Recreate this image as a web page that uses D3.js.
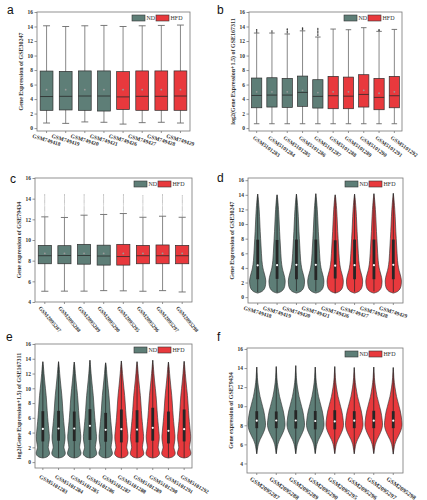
<!DOCTYPE html>
<html><head><meta charset="utf-8">
<script src="https://cdn.jsdelivr.net/npm/d3@7"></script>
<style>body{margin:0;background:#fff} svg{display:block}</style>
</head><body>
<script>
// ---------------- DATA ----------------
const groupNames = ["ND", "HFD"];
const samplesA = ["GSM749418","GSM749419","GSM749420","GSM749421","GSM749426","GSM749427","GSM749428","GSM749429"];
const groupsA  = ["ND","ND","ND","ND","HFD","HFD","HFD","HFD"];
const samplesB = ["GSM5101283","GSM5101284","GSM5101285","GSM5101286","GSM5101287","GSM5101288","GSM5101289","GSM5101290","GSM5101291","GSM5101292"];
const groupsB  = ["ND","ND","ND","ND","ND","HFD","HFD","HFD","HFD","HFD"];
const samplesC = ["GSM2095287","GSM2095288","GSM2095289","GSM2095290","GSM2095295","GSM2095296","GSM2095297","GSM2095298"];
const groupsC  = ["ND","ND","ND","ND","HFD","HFD","HFD","HFD"];

const ticks0to16 = [0,2,4,6,8,10,12,14,16];
const ticks4to16 = [4,6,8,10,12,14,16];

// GSE30247 (panels a, d)
const lowA  = [0.70,0.65,0.85,0.80,0.55,0.75,0.80,0.70];
const q1A   = [2.45,2.50,2.45,2.35,2.55,2.45,2.45,2.45];
const medA  = [4.35,4.38,4.42,4.42,4.30,4.38,4.38,4.42];
const q3A   = [7.86,7.82,7.88,7.88,7.78,7.88,7.88,7.88];
const highA = [14.10,14.00,14.10,14.15,14.00,14.10,14.15,14.20];
const meanA = [5.30,5.30,5.30,5.30,5.30,5.30,5.30,5.30];

// GSE167311 (panels b, e)
const lowB  = [0.60,0.60,0.60,0.60,0.60,0.60,0.60,0.60,0.60,0.60];
const q1B   = [2.80,2.90,2.85,3.00,2.76,2.67,2.67,2.90,2.53,2.80];
const medB  = [4.50,4.55,4.55,4.92,4.37,4.46,4.40,4.64,4.23,4.46];
const q3B   = [6.90,6.94,6.85,7.17,6.67,7.13,7.03,7.36,6.85,7.13];
const highB = [13.10,13.10,12.97,13.40,12.55,13.65,13.56,13.84,13.33,13.60];
const meanB = [5.00,5.00,5.00,5.20,4.90,5.00,5.00,5.20,4.80,5.00];
const outB  = [[13.25,13.40,13.55],[13.25,13.40],[13.15,13.35,13.55,13.65],[13.55,13.70,13.80],
               [12.75,12.95,13.15,13.35,13.55,13.75],[],[],[],[13.45,13.56],[]];
const topB  = [13.60,13.60,13.55,13.80,13.45,13.70,13.60,13.80,13.55,13.65];

// GSE79434 (panels c, f)
const lowC  = [5.04,5.05,5.05,5.10,5.08,5.04,5.10,4.97];
const q1C   = [7.70,7.70,7.66,7.57,7.57,7.70,7.70,7.70];
const medC  = [8.48,8.50,8.50,8.45,8.40,8.48,8.48,8.48];
const q3C   = [9.48,9.45,9.58,9.50,9.58,9.48,9.52,9.48];
const highC = [12.24,12.18,12.40,12.47,12.56,12.20,12.30,12.20];
const meanC = [8.70,8.70,8.70,8.70,8.70,8.70,8.70,8.70];
const maxC  = [14.44,14.40,14.40,14.40,14.40,14.30,14.40,14.35];
const topF  = [14.10,14.15,14.25,14.10,14.15,14.05,14.10,14.05];
const outlierLevelsC = [12.3,12.4,12.5,12.6,12.7,12.8,12.9,13.0,13.1,13.2,13.3,13.4,13.5,13.6,13.7,13.8,13.9,14.0,14.1,14.2,14.3,14.4];

// violin density profiles [value, relative half-width]
const profD = [[0.55,0],[0.8,0.55],[1.2,0.85],[1.7,0.97],[2.2,1],[2.7,0.94],[3.3,0.8],[4.0,0.64],[5.0,0.52],[6.0,0.46],
               [7.0,0.41],[8.0,0.36],[9.0,0.31],[10.0,0.27],[11.0,0.23],[12.0,0.18],[13.0,0.11],[13.6,0.06],[14.1,0]];
const profE = [[0.55,0],[0.7,0.6],[0.95,0.92],[1.25,1],[1.6,0.9],[1.95,0.8],[2.4,0.85],[3.0,0.95],[3.5,0.97],[4.2,0.9],
               [5.0,0.82],[6.0,0.72],[7.0,0.64],[8.0,0.57],[9.0,0.49],[10.0,0.38],[11.0,0.27],[12.0,0.17],[13.0,0.08],[13.6,0]];
const profF = [[5.0,0],[5.5,0.08],[6.0,0.18],[6.5,0.38],[7.0,0.65],[7.5,0.88],[8.0,1],[8.5,0.97],[9.0,0.9],[9.5,0.8],
               [10.0,0.66],[10.5,0.52],[11.0,0.38],[11.5,0.28],[12.0,0.19],[12.5,0.12],[13.0,0.07],[13.5,0.04],[14.2,0]];

// ---------------- DRAWING ----------------
const COL = {ND:"#5e7e77", HFD:"#e8393d"};
const SERIF = "'Liberation Serif','Times New Roman',serif";
const SANS = "'Liberation Sans',Arial,sans-serif";
const svg = d3.select("body").append("svg").attr("width",427).attr("height",500);

function drawPanel(p){
  const x = d3.scaleBand().domain(p.samples).range([p.x0,p.x1]);
  const y = d3.scaleLinear().domain(p.domain).range([p.y1,p.y0]);
  const g = svg.append("g");
  const bw = x.bandwidth();

  g.append("text").attr("x",p.lx).attr("y",p.ly).text(p.letter)
    .attr("font-family",SANS).attr("font-size",12).attr("fill","#111");

  // y axis
  const yg = g.append("g").attr("transform",`translate(${p.x0},0)`)
    .call(d3.axisLeft(y).tickValues(p.ticks).tickSize(2.5).tickPadding(1.5).tickFormat(d3.format("d")));
  yg.select(".domain").remove();
  yg.selectAll("line").attr("stroke","#666").attr("stroke-width",0.7);
  yg.selectAll("text").attr("font-family",SERIF).attr("font-weight","bold").attr("font-size",5.5).attr("fill","#333");

  // x axis ticks
  const xg = g.append("g").attr("transform",`translate(0,${p.y1})`)
    .call(d3.axisBottom(x).tickSize(2).tickFormat(""));
  xg.select(".domain").remove();
  xg.selectAll("line").attr("stroke","#666").attr("stroke-width",0.7);

  // x labels
  g.selectAll("text.xl").data(p.samples).join("text").attr("class","xl")
    .attr("transform",d=>`translate(${x(d)+bw/2+p.ldx},${p.y1+p.ldy}) rotate(${p.rot})`)
    .attr("text-anchor",p.anchor).attr("dy","0.35em")
    .attr("font-family",SERIF).attr("font-weight","bold").attr("font-size",p.lfs).attr("fill","#333")
    .text(d=>d);

  // y title
  g.append("text").attr("transform",`translate(${p.x0-14},${(p.y0+p.y1)/2}) rotate(-90)`)
    .attr("text-anchor","middle").attr("font-family",SERIF).attr("font-weight","bold")
    .attr("font-size",6).attr("fill","#333").text(p.title);

  const marks = g.append("g");
  p.samples.forEach((s,i)=>{
    const cx = x(s)+bw/2, c = COL[p.groups[i]];
    if(p.type==="box"){
      const w = bw*0.67;
      marks.append("line").attr("x1",cx).attr("x2",cx).attr("y1",y(p.low[i])).attr("y2",y(p.high[i]))
        .attr("stroke","#7a7a7a").attr("stroke-width",0.9);
      [p.low[i],p.high[i]].forEach(v=>marks.append("line").attr("x1",cx-w*0.27).attr("x2",cx+w*0.27)
        .attr("y1",y(v)).attr("y2",y(v)).attr("stroke","#6a6a6a").attr("stroke-width",0.9));
      (p.out ? p.out(i) : []).forEach(v=>marks.append("circle").attr("cx",cx).attr("cy",y(v))
        .attr("r",p.outR).attr("fill",p.outC));
      marks.append("rect").attr("x",cx-w/2).attr("width",w).attr("y",y(p.q3[i]))
        .attr("height",y(p.q1[i])-y(p.q3[i])).attr("fill",c).attr("stroke","#2e2e2e").attr("stroke-width",0.7);
      marks.append("line").attr("x1",cx-w/2).attr("x2",cx+w/2).attr("y1",y(p.med[i])).attr("y2",y(p.med[i]))
        .attr("stroke","#2a2a2a").attr("stroke-width",0.8);
      marks.append("circle").attr("cx",cx).attr("cy",y(p.mean[i])).attr("r",0.9).attr("fill","#9a9a9a");
    } else {
      const hw = bw*p.vw;
      const prof = p.prof.map((d,k)=> k===p.prof.length-1 ? [p.top[i],d[1]] : d);
      const area = d3.area().curve(d3.curveCatmullRom)
        .x0(d=>cx-hw*d[1]).x1(d=>cx+hw*d[1]).y(d=>y(d[0]));
      marks.append("path").attr("d",area(prof)).attr("fill",c).attr("stroke","#333").attr("stroke-width",0.65);
      marks.append("line").attr("x1",cx).attr("x2",cx).attr("y1",y(p.low[i])).attr("y2",y(p.top[i]))
        .attr("stroke","#222").attr("stroke-width",0.7);
      marks.append("rect").attr("x",cx-1.4).attr("width",2.8).attr("y",y(p.q3[i]))
        .attr("height",y(p.q1[i])-y(p.q3[i])).attr("fill","#262626");
      marks.append("circle").attr("cx",cx).attr("cy",y(p.med[i])).attr("r",1.1).attr("fill","#fff");
    }
  });

  // frame
  g.append("rect").attr("x",p.x0).attr("y",p.y0).attr("width",p.x1-p.x0).attr("height",p.y1-p.y0)
    .attr("fill","none").attr("stroke","#777").attr("stroke-width",0.8);

  // legend
  const lg = g.append("g");
  groupNames.forEach((gn,k)=>{
    const lx = p.x1 - 58 + k*24;
    lg.append("rect").attr("x",lx).attr("y",p.y0+3).attr("width",13).attr("height",6)
      .attr("fill",COL[gn]).attr("stroke","#333").attr("stroke-width",0.6);
    lg.append("text").attr("x",lx+14.5).attr("y",p.y0+8.3).text(gn)
      .attr("font-family",SERIF).attr("font-size",6).attr("fill","#333");
  });
}

drawPanel({letter:"a",lx:7,ly:14,x0:37,y0:12,x1:190,y1:131,domain:[-0.4,16],ticks:ticks0to16,
  samples:samplesA,groups:groupsA,title:"Gene Expression of GSE30247",type:"box",
  low:lowA,q1:q1A,med:medA,q3:q3A,high:highA,mean:meanA,
  rot:17,anchor:"middle",ldx:0,ldy:9,lfs:5.5});

drawPanel({letter:"b",lx:217,ly:14,x0:249,y0:12,x1:402,y1:131,domain:[-0.4,16],ticks:ticks0to16,
  samples:samplesB,groups:groupsB,title:"log2(Gene Expression+1.5) of GSE167311",type:"box",
  low:lowB,q1:q1B,med:medB,q3:q3B,high:highB,mean:meanB,out:i=>outB[i],outR:0.7,outC:"#333",
  rot:36,anchor:"start",ldx:-3,ldy:6,lfs:5.5});

drawPanel({letter:"c",lx:10,ly:183,x0:35,y0:178,x1:192,y1:302,domain:[4,16],ticks:ticks4to16,
  samples:samplesC,groups:groupsC,title:"Gene expression of GSE79434",type:"box",
  low:lowC,q1:q1C,med:medC,q3:q3C,high:highC,mean:meanC,
  out:i=>outlierLevelsC.filter(v=>v>highC[i]+0.05 && v<=maxC[i]),outR:0.45,outC:"#8a8a8a",
  rot:50,anchor:"start",ldx:-5,ldy:5,lfs:5.5});

drawPanel({letter:"d",lx:217,ly:182,x0:248,y0:178,x1:403,y1:303,domain:[-0.8,16.3],ticks:ticks0to16,
  samples:samplesA,groups:groupsA,title:"Gene Expression of GSE30247",type:"violin",
  low:lowA,q1:q1A,med:medA,q3:q3A,top:highA,prof:profD,vw:0.42,
  rot:17,anchor:"middle",ldx:0,ldy:9,lfs:5.5});

drawPanel({letter:"e",lx:6,ly:341,x0:35,y0:344,x1:192,y1:468,domain:[-0.8,16],ticks:ticks0to16,
  samples:samplesB,groups:groupsB,title:"log2(Gene Expression+1.5) of GSE167311",type:"violin",
  low:lowB,q1:q1B,med:medB,q3:q3B,top:topB,prof:profE,vw:0.43,
  rot:31,anchor:"start",ldx:-3,ldy:8,lfs:5.5});

drawPanel({letter:"f",lx:217,ly:341,x0:247,y0:348,x1:403,y1:473,domain:[3,16.1],ticks:ticks4to16,
  samples:samplesC,groups:groupsC,title:"Gene expression of GSE79434",type:"violin",
  low:lowC,q1:q1C,med:medC,q3:q3C,top:topF,prof:profF,vw:0.45,
  rot:36,anchor:"start",ldx:-6,ldy:5,lfs:6});
</script>
</body></html>
